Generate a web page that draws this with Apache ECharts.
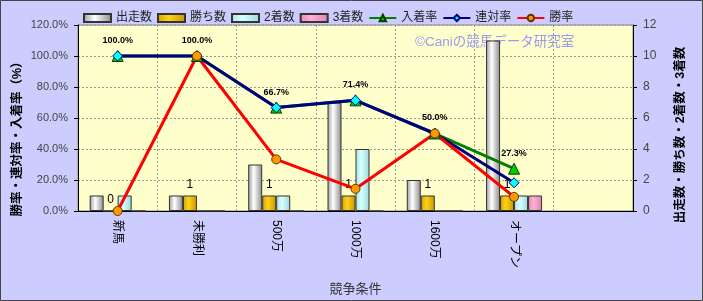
<!DOCTYPE html>
<html><head><meta charset="utf-8">
<script src="https://cdn.jsdelivr.net/npm/echarts@6/dist/echarts.min.js"></script>
<style>html,body{margin:0;padding:0;background:#CCCCFF;}#c{width:703px;height:301px;box-sizing:border-box;}</style>
</head><body><div id="c"></div>
<script>
var categories = ['新馬', '未勝利', '500万', '1000万', '1600万', 'オープン', ''];
var runs = [1, 1, 3, 7, 2, 11, null];
var wins = [0, 1, 1, 1, 1, 1, null];
var seconds = [1, 0, 1, 4, 0, 1, null];
var thirds = [0, 0, 0, 0, 0, 1, null];
var placeRate = [100.0, 100.0, 66.7, 71.4, 50.0, 27.3, null];
var rentaiRate = [100.0, 100.0, 66.7, 71.4, 50.0, 18.2, null];
var winRate = [0.0, 100.0, 33.3, 14.3, 50.0, 9.1, null];
var leftTicks = [0, 20, 40, 60, 80, 100, 120];
var rightTicks = [0, 2, 4, 6, 8, 10, 12];

var FF = '"Liberation Sans", "Noto Sans CJK JP", sans-serif';
function hgrad(c0, c1, c2) {
  return new echarts.graphic.LinearGradient(0, 0, 1, 0, [
    {offset: 0, color: c0}, {offset: 0.4, color: c1}, {offset: 1, color: c2}]);
}
var chart = echarts.init(document.getElementById('c'), null, {renderer: 'canvas'});
function barSeries(name, data, fill, extra) {
  var s = {
    name: name, type: 'bar', yAxisIndex: 1, data: data,
    barWidth: 14, barGap: '0%',
    itemStyle: {color: fill, borderColor: '#333', borderWidth: 1}
  };
  for (var k in extra) s[k] = extra[k];
  return s;
}
function lineSeries(name, data, lineColor, symbol, symSize, symColor, symBorder, extra) {
  var s = {
    name: name, type: 'line', yAxisIndex: 0, data: data,
    symbol: symbol, symbolSize: symSize, showAllSymbol: true,
    lineStyle: {color: lineColor, width: 3},
    itemStyle: {color: symColor, borderColor: symBorder, borderWidth: 1},
    connectNulls: false
  };
  for (var k in extra) s[k] = extra[k];
  return s;
}
var option = {
  backgroundColor: '#CCCCFF',
  animation: false,
  textStyle: {fontFamily: FF},
  legend: {
    left: 78, top: 7, itemWidth: 27, itemHeight: 8, itemGap: 5,
    textStyle: {fontSize: 12, color: '#222', fontFamily: FF},
    data: [
      {name: '出走数', icon: 'rect'}, {name: '勝ち数', icon: 'rect'},
      {name: '2着数', icon: 'rect'}, {name: '3着数', icon: 'rect'},
      '入着率', '連対率', '勝率']
  },
  grid: {left: 78, right: 70, top: 25, bottom: 88, show: true, backgroundColor: '#FFFFCC', borderColor: '#888', borderWidth: 1},
  graphic: [
    {type: 'text', z: 1, left: 415, top: 36, style: {text: '©Caniの競馬データ研究室', fill: '#9A9AF0', font: '13.5px ' + FF}},
    {type: 'text', x: 18, y: 136, rotation: Math.PI / 2, style: {text: '勝率・連対率・入着率（%）', fill: '#000', font: 'bold 12.5px ' + FF, align: 'center', verticalAlign: 'middle'}},
    {type: 'text', x: 681, y: 135, rotation: Math.PI / 2, style: {text: '出走数・勝ち数・2着数・3着数', fill: '#000', font: 'bold 12.5px ' + FF, align: 'center', verticalAlign: 'middle'}},
    {type: 'rect', shape: {x: 0.5, y: 0.5, width: 702, height: 300}, style: {fill: 'none', stroke: '#444', lineWidth: 1}}
  ],
  xAxis: {
    type: 'category', data: categories,
    name: '競争条件', nameLocation: 'middle', nameGap: 72,
    nameTextStyle: {fontSize: 13, color: '#333'},
    axisLine: {lineStyle: {color: '#000'}},
    axisTick: {show: false},
    axisLabel: {rotate: -90, fontSize: 12, color: '#000', margin: 9, interval: 0},
    splitLine: {show: true, lineStyle: {color: '#999', type: [2, 2]}}
  },
  yAxis: [
    {type: 'value', min: 0, max: 120, interval: 20,
     axisLine: {show: true, lineStyle: {color: '#000'}},
     axisTick: {show: true, length: 4, lineStyle: {color: '#000'}},
     axisLabel: {fontSize: 11, color: '#444', margin: 10, formatter: function (v) { return v.toFixed(1) + '%'; }},
     splitLine: {show: true, lineStyle: {color: '#999', type: [2, 2]}}},
    {type: 'value', min: 0, max: 12, interval: 2,
     axisLine: {show: true, lineStyle: {color: '#000'}},
     axisTick: {show: true, length: 4, lineStyle: {color: '#000'}},
     axisLabel: {fontSize: 12, color: '#444', margin: 10},
     splitLine: {show: false}}
  ],
  series: [
    barSeries('出走数', runs, hgrad('#9a9a9a', '#ffffff', '#8a8a8a'), {}),
    barSeries('勝ち数', wins, hgrad('#d4a000', '#ffd21a', '#c89600'), {
      label: {show: true, position: 'top', distance: 5, fontSize: 12, color: '#000'}
    }),
    barSeries('2着数', seconds, hgrad('#a8e4e4', '#d8ffff', '#9adada'), {}),
    barSeries('3着数', thirds, hgrad('#e888b8', '#ffb0d8', '#e080b0'), {}),
    lineSeries('入着率', placeRate, '#008000', 'triangle', 11, '#00cc00', '#004000', {
      label: {show: true, position: 'top', distance: 5, fontSize: 9, fontWeight: 'bold', color: '#000',
              formatter: function (p) { return p.value.toFixed(1) + '%'; }}
    }),
    lineSeries('連対率', rentaiRate, '#000080', 'diamond', 10, '#00ffff', '#000080', {}),
    lineSeries('勝率', winRate, '#ff0000', 'circle', 9, '#ff9900', '#663300', {})
  ]
};
chart.setOption(option);
</script></body></html>
